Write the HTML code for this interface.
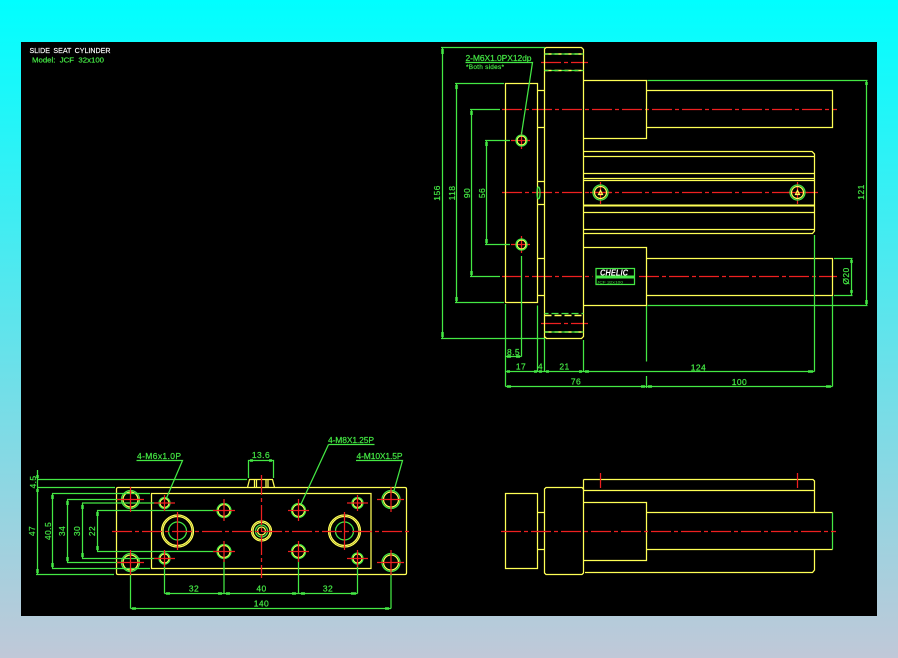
<!DOCTYPE html>
<html><head><meta charset="utf-8"><style>
html,body{margin:0;padding:0;width:898px;height:658px;overflow:hidden;background:linear-gradient(180deg,#00ffff 0%,#c0c8d8 100%)}
svg{position:absolute;left:0;top:0}
text{font-family:"Liberation Sans",sans-serif;font-size:8.5px}
.y{stroke:#ffff55;fill:none;stroke-width:1.25}.g{stroke:#44e844;fill:none;stroke-width:1.25}.r{stroke:#ee2020;fill:none;stroke-width:1.25}
.c{stroke-dasharray:20 3 4 3}
.t{fill:#44e844;stroke:#44e844;stroke-width:.2;text-anchor:middle;letter-spacing:.4px}
.l{fill:#44e844;stroke:#44e844;stroke-width:.2}
.k{stroke:#44e844;stroke-width:2.5;fill:none}
</style></head><body>
<svg width="898" height="658" viewBox="0 0 898 658" xmlns="http://www.w3.org/2000/svg">
<rect x="21" y="42" width="856" height="574" fill="#000"/>
<text x="29.5" y="53" fill="#fff" stroke="#fff" stroke-width=".15" style="font-size:7.5px;word-spacing:1.5px" textLength="81" lengthAdjust="spacingAndGlyphs">SLIDE SEAT CYLINDER</text>
<text x="32" y="62.5" class="l" style="font-size:7.5px" textLength="72" lengthAdjust="spacingAndGlyphs" xml:space="preserve">Model:  JCF  32x100</text>

<!-- TOP VIEW: red -->
<g class="r">
<path class="c" d="M502 109.5H837"/>
<path class="c" d="M502 192.5H818"/>
<path class="c" d="M502 276.5H592.5"/>
<path class="c" d="M639 276.5H837"/>
<path class="c" d="M541 62.5H588"/>
<path class="c" d="M541 323.5H588"/>
<path d="M521.5 132V149M511 140.5H530M521.5 236V253M511 244.5H530M600.5 182V204M590 192.5H611M797.5 182V204M787 192.5H808"/>
</g>
<!-- TOP VIEW: yellow -->
<g class="y">
<path d="M505.5 83.5H537.5V302.5H505.5Z"/>
<path d="M537.5 90.5H544.5M537.5 127.5H544.5M537.5 181.5H544.5M537.5 204.5H544.5M537.5 258.5H544.5M537.5 295.5H544.5"/>
<path d="M544.5 338.5V49L546 47.5H581.5L583.5 49.5V336.5L581.5 338.5H546.5L544.5 336.5"/>
<path d="M583.5 80.5H646.5V138.5H583.5M646.5 90.5H832.5V127.5H646.5"/>
<path d="M583.5 247.5H646.5V305.5H583.5M646.5 258.5H832.5V295.5H646.5"/>
<path d="M583.5 151.5H812L814.5 154V231L812.5 233.5H583.5M583.5 156.5H814.5M583.5 173.5H814.5M583.5 178.5H814.5M583.5 180.5H814.5M583.5 212.5H814.5M583.5 229.5H814.5"/>
<path d="M583.5 205.5H814.5" stroke-width="2"/>
<path d="M544.5 54H583.5M544.5 70.5H583.5M544.5 315.5H583.5M544.5 332H583.5" stroke-width="1.5" stroke-dasharray="7 3"/>
<circle cx="521.5" cy="140.5" r="4.5"/><circle cx="521.5" cy="244.5" r="4.5"/>
<circle cx="600.5" cy="192.5" r="6"/><circle cx="797.5" cy="192.5" r="6"/>
<path d="M598.5 194.5L600.5 190.5L602.5 194.5ZM795.5 194.5L797.5 190.5L799.5 194.5Z"/>
</g>
<!-- TOP VIEW: green -->
<g class="g">
<circle cx="521.5" cy="140.5" r="5.5"/><circle cx="521.5" cy="244.5" r="5.5"/>
<circle cx="600.5" cy="192.5" r="7.5"/><circle cx="797.5" cy="192.5" r="7.5"/>
<ellipse cx="538.5" cy="193" rx="1.5" ry="6"/>
<path d="M544.5 54H583.5M544.5 70.5H583.5M544.5 313.5H583.5M544.5 332H583.5" stroke-dasharray="7 3" stroke-dashoffset="3"/>
<path d="M441 47.5H545M442.5 47.5V338.5M441 338.5H545"/>
<path d="M455 83.5H504M456.5 83.5V302.5M455 302.5H504"/>
<path d="M470 109.5H500M471.5 109.5V276.5M470 276.5H500"/>
<path d="M485 140.5H510M486.5 140.5V244.5M485 244.5H510"/>
<path d="M465.5 62.5H532.5L521.5 134"/>
<path d="M521.5 256V356.5M505.5 356.5H521.5"/>
<path d="M505.5 304V386.5M537.5 305.5V371.5M544.5 339V371.5M583.5 340V371.5"/>
<path d="M505.5 371.5H814.5M505.5 386.5H832.5"/>
<path d="M646.5 306V361.5M646.5 376V388M814.5 235V371.5M832.5 296V386.5"/>
<path d="M647.5 80.5H867.5M866.5 80.5V305.5M647.5 305.5H867.5"/>
<path d="M834 258.5H852.5M851.5 258.5V295.5M834 295.5H852.5"/>
</g>
<path class="k" d="M442.5 49V54M442.5 332V337M456.5 85V89M456.5 297V301M471.5 111V115M471.5 271V275M486.5 142V146M486.5 239V243M866.5 82V85M866.5 300V304M851.5 260V263M851.5 290V293M507 371.5H510M534 371.5H537M539 371.5H542M546 371.5H549M579 371.5H582M585 371.5H589M808 371.5H813M507 386.5H511M641 386.5H645M648 386.5H652M826 386.5H831" />
<path d="M507 356.5H511M516 356.5H520" class="k"/>
<text class="t" transform="translate(440,193) rotate(-90)">156</text>
<text class="t" transform="translate(455,193) rotate(-90)">118</text>
<text class="t" transform="translate(470,193) rotate(-90)">90</text>
<text class="t" transform="translate(485,193) rotate(-90)">56</text>
<text class="t" transform="translate(864,192) rotate(-90)">121</text>
<text class="t" transform="translate(849,276) rotate(-90)">Ø20</text>
<text class="l" x="465.5" y="61" textLength="66" lengthAdjust="spacing">2-M6X1.0PX12dp</text>
<text class="l" x="466" y="69" style="font-size:6.5px" textLength="38" lengthAdjust="spacing">*Both sides*</text>
<text class="t" x="513.5" y="355">8.5</text>
<text class="t" x="521" y="369.5">17</text>
<text class="t" x="540.5" y="369.5">4</text>
<text class="t" x="564.5" y="369.5">21</text>
<text class="t" x="576" y="384.5">76</text>
<text class="t" x="698.5" y="370.5">124</text>
<text class="t" x="739.5" y="385">100</text>
<!-- label -->
<rect x="596" y="268.5" width="38.5" height="16" fill="none" stroke="#44e844" stroke-width="1.25"/>
<rect x="596" y="275.5" width="38.5" height="3" fill="#44e844"/>
<text x="600" y="275.5" fill="#fff" font-style="italic" font-weight="bold" style="font-size:8px" textLength="28" lengthAdjust="spacingAndGlyphs">CHELIC</text>
<text x="597" y="283.5" fill="#44e844" style="font-size:3.5px" textLength="26" lengthAdjust="spacingAndGlyphs">JCF 32x100</text>

<!-- FRONT VIEW -->
<g class="y">
<path d="M118 487.5H405Q406.5 487.5 406.5 489V573Q406.5 574.5 405 574.5H118Q116.5 574.5 116.5 573V489Q116.5 487.5 118 487.5Z"/>
<rect x="151.5" y="493.5" width="219.5" height="75"/>
<path d="M247.5 487.5L249.5 479.5H272.5L274.5 487.5"/>
<circle cx="177.5" cy="531" r="16"/><circle cx="177.5" cy="531" r="14.5"/>
<circle cx="344.5" cy="531" r="16"/><circle cx="344.5" cy="531" r="14.5"/>
<circle cx="261.5" cy="531" r="10"/><circle cx="261.5" cy="531" r="8.5"/>
<circle cx="261.5" cy="531" r="4"/>
<circle cx="130.5" cy="499.5" r="7.5"/><circle cx="130.5" cy="562.5" r="7.5"/><circle cx="391" cy="499.5" r="7.5"/><circle cx="391" cy="562.5" r="7.5"/>
<circle cx="164.5" cy="503" r="4.5"/><circle cx="164.5" cy="558.5" r="4.5"/><circle cx="357.5" cy="503" r="4.5"/><circle cx="357.5" cy="558.5" r="4.5"/>
<circle cx="224" cy="510.5" r="6"/><circle cx="224" cy="551.5" r="6"/><circle cx="298.5" cy="510.5" r="6"/><circle cx="298.5" cy="551.5" r="6"/>
<path d="M254.5 479.5V487M256.5 479.5V487M266 479.5V487M268 479.5V487"/>
</g>
<g class="g">
<circle cx="177.5" cy="531" r="9"/><circle cx="344.5" cy="531" r="9"/><circle cx="261.5" cy="531" r="6"/>
<circle cx="130.5" cy="499.5" r="9"/><circle cx="130.5" cy="562.5" r="9"/><circle cx="391" cy="499.5" r="9"/><circle cx="391" cy="562.5" r="9"/>
<circle cx="164.5" cy="503" r="5.5"/><circle cx="164.5" cy="558.5" r="5.5"/><circle cx="357.5" cy="503" r="5.5"/><circle cx="357.5" cy="558.5" r="5.5"/>
<circle cx="224" cy="510.5" r="7"/><circle cx="224" cy="551.5" r="7"/><circle cx="298.5" cy="510.5" r="7"/><circle cx="298.5" cy="551.5" r="7"/>
<path d="M37.5 470V574.5M37 479.5H247M37 487.5H115M36 574.5H114"/>
<path d="M52.5 493.5V568.5M52 493.5H150M52 568.5H150"/>
<path d="M67.5 499.5V562.5M67 499.5H122M67 562.5H122"/>
<path d="M82.5 503V558.5M82 503H158M82 558.5H158"/>
<path d="M97.5 510.5V551.5M97 510.5H216M97 551.5H216"/>
<path d="M136.5 460.5H182.5L166.5 498"/>
<path d="M328.5 444.5H374.5M328.5 444.5L301 504"/>
<path d="M356 460.5H402.5L394 490.5"/>
<path d="M248.5 478V460.5H273.5V478"/>
<path d="M164.5 564V593.5M224 558V593.5M298.5 558V593.5M357.5 564V593.5M164.5 593.5H357.5"/>
<path d="M130.5 572V608.5M391 572V608.5M130.5 608.5H391"/>
</g>
<path class="k" d="M37.5 475V478M37.5 489V492M37.5 569V573M52.5 495V499M52.5 563V567M67.5 501V505M67.5 557V561M82.5 505V509M82.5 553V557M97.5 512V516M97.5 546V550M250 460.5H253M269 460.5H272M166 593.5H170M218 593.5H222M226 593.5H230M292 593.5H296M301 593.5H305M351 593.5H356M132 608.5H136M385 608.5H389"/>
<g class="r">
<path class="c" d="M112 531.5H410"/>
<path class="c" d="M261.5 475V578"/>
<path d="M177.5 512V550M344.5 512V550"/>
<path d="M117 499.5H144M130.5 487V512M117 562.5H144M130.5 550V575M377 499.5H404M391 487V512M377 562.5H404M391 550V575"/>
<path d="M154 503H175M164.5 495V511M154 558.5H175M164.5 550V567M347 503H368M357.5 495V511M347 558.5H368M357.5 550V567"/>
<path d="M213 510.5H235M224 499V521M213 551.5H235M224 541V562M288 510.5H309M298.5 499V521M288 551.5H309M298.5 541V562"/>
</g>
<text class="t" transform="translate(36,482) rotate(-90)">4.5</text>
<text class="t" transform="translate(35,531) rotate(-90)">47</text>
<text class="t" transform="translate(51,531) rotate(-90)">40.5</text>
<text class="t" transform="translate(65,531) rotate(-90)">34</text>
<text class="t" transform="translate(80,531) rotate(-90)">30</text>
<text class="t" transform="translate(95,531) rotate(-90)">22</text>
<text class="l" x="137" y="459" textLength="44" lengthAdjust="spacing">4-M6x1.0P</text>
<text class="l" x="328" y="443" textLength="46" lengthAdjust="spacing">4-M8X1.25P</text>
<text class="l" x="356.5" y="459" textLength="46" lengthAdjust="spacing">4-M10X1.5P</text>
<text class="t" x="261" y="458">13.6</text>
<text class="t" x="194" y="591.5">32</text>
<text class="t" x="261.5" y="591.5">40</text>
<text class="t" x="328" y="591.5">32</text>
<text class="t" x="261.5" y="606.5">140</text>

<!-- SIDE VIEW -->
<g class="y">
<rect x="505.5" y="493.5" width="32" height="75"/>
<path d="M537.5 512.5H544.5M537.5 549.5H544.5"/>
<path d="M546 487.5H582L583.5 489V573L582 574.5H546L544.5 573V489Z"/>
<path d="M583.5 479.5H813L814.5 481V512.5M814.5 549.5V570L812.5 572.5H585M583.5 490.5H814.5"/>
<path d="M583.5 479.5V490.5"/>
<path d="M583.5 502.5H646.5V560.5H583.5M646.5 512.5H832.5M646.5 549.5H832.5"/>
</g>
<path class="g" d="M832.5 512.5V549.5"/>
<g class="r">
<path class="c" d="M501 531.5H836"/>
<path d="M600.5 473V488M797.5 473V488"/>
</g>
</svg>
</body></html>
